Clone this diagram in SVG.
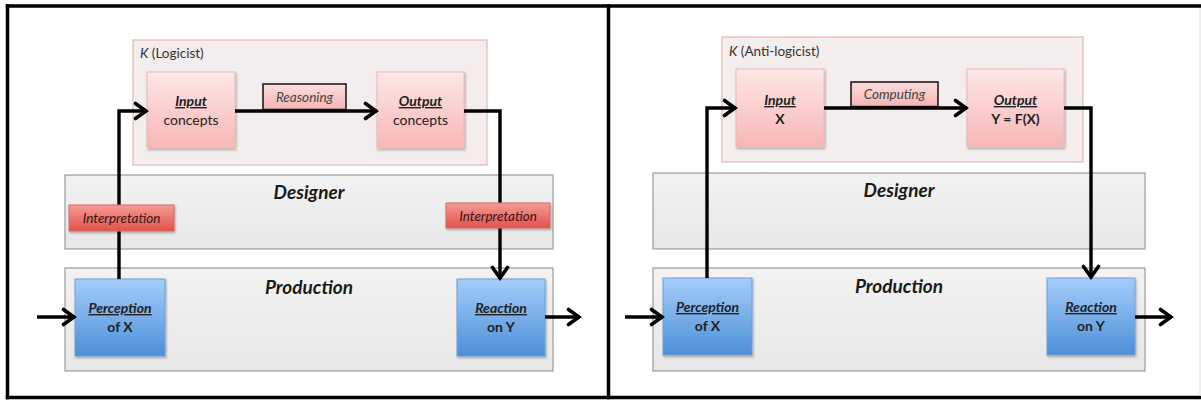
<svg xmlns="http://www.w3.org/2000/svg" width="1201" height="403" viewBox="0 0 1201 403">
<style>
text{font-family:Lato,"Open Sans","Liberation Sans",sans-serif;fill:#222;}
.kbox{fill:#f3eded;stroke:#e9b3b3;stroke-width:1.2;}
.pink{fill:url(#gPink);stroke:#e9b8b8;stroke-width:1;filter:url(#sh);}
.lab{fill:url(#gLab);stroke:#111;stroke-width:1.5;}
.grey{fill:url(#gGrey);stroke:#9a9a9a;stroke-width:1.2;}
.red{fill:url(#gRed);stroke:#d86a64;stroke-width:1;filter:url(#sh);}
.blue{fill:url(#gBlue);stroke:#6f9fd6;stroke-width:1;filter:url(#sh);}
.conn{fill:none;stroke:#000;stroke-width:3.4;}
.arr{marker-end:url(#ah);}
.klab{font-size:13.5px;fill:#333;}
.t13{font-size:14px;text-anchor:middle;}
.bi{font-weight:bold;font-style:italic;}
.it{font-style:italic;}
.b{font-weight:bold;}
.u{text-decoration:underline;}
.big{font-size:19px;font-weight:bold;font-style:italic;text-anchor:middle;fill:#1a1a1a;}
.lbl{font-size:13.5px;font-style:italic;text-anchor:middle;fill:#444;}
.ilbl{font-size:13.5px;font-style:italic;text-anchor:middle;fill:#3a1515;}
.frame{stroke:#000;stroke-width:3.5;fill:none;}
</style>
<defs>
<linearGradient id="gPink" x1="0" y1="0" x2="0" y2="1"><stop offset="0" stop-color="#fde7e7"/><stop offset="1" stop-color="#f8b6b6"/></linearGradient>
<linearGradient id="gLab" x1="0" y1="0" x2="0" y2="1"><stop offset="0" stop-color="#fcdede"/><stop offset="1" stop-color="#f5b3b3"/></linearGradient>
<linearGradient id="gGrey" x1="0" y1="0" x2="0" y2="1"><stop offset="0" stop-color="#f2f2f2"/><stop offset="1" stop-color="#e7e7e7"/></linearGradient>
<linearGradient id="gRed" x1="0" y1="0" x2="0" y2="1"><stop offset="0" stop-color="#f79b93"/><stop offset="1" stop-color="#e0514b"/></linearGradient>
<linearGradient id="gBlue" x1="0" y1="0" x2="0" y2="1"><stop offset="0" stop-color="#a5cdfa"/><stop offset="1" stop-color="#4c8fd8"/></linearGradient>
<filter id="sh" x="-10%" y="-10%" width="125%" height="125%"><feDropShadow dx="1" dy="1.5" stdDeviation="1" flood-color="#000" flood-opacity="0.3"/></filter>
<marker id="ah" markerUnits="userSpaceOnUse" viewBox="0 0 16 20" refX="14" refY="10" markerWidth="16" markerHeight="20" orient="auto">
<path d="M2.5,2.5 L13,10 L2.5,17.5" fill="none" stroke="#000" stroke-width="3.6" stroke-linecap="round" stroke-linejoin="miter"/>
</marker>
</defs>

<!-- outer frame -->
<g id="frame">
<line class="frame" x1="5.8" y1="6" x2="1201" y2="6"/>
<line class="frame" x1="5.8" y1="397.5" x2="1201" y2="397.5"/>
<line class="frame" x1="7.5" y1="4.3" x2="7.5" y2="399.2"/>
<line class="frame" x1="608.5" y1="4.3" x2="608.5" y2="399.2"/>
<line x1="1200" y1="8" x2="1200" y2="396" stroke="#ddd" stroke-width="1"/>
</g>

<!-- ===== LEFT PANEL ===== -->
<g id="k-logicist">
<rect class="kbox" x="133" y="40" width="354" height="125"/>
<text class="klab" x="140" y="58"><tspan class="it">K</tspan> (Logicist)</text>
</g>
<g id="designer-left">
<rect class="grey" x="65" y="175" width="488" height="74"/>
<text class="big" x="309" y="199">Designer</text>
</g>
<g id="production-left">
<rect class="grey" x="65" y="268" width="488" height="103"/>
<text class="big" x="309" y="294">Production</text>
</g>
<g id="input-concepts">
<rect class="pink" x="147" y="72" width="88" height="76"/>
<text class="t13" x="191" y="106"><tspan class="bi u">Input</tspan></text>
<text class="t13" x="191" y="125">concepts</text>
</g>
<g id="output-concepts">
<rect class="pink" x="377" y="72" width="87" height="76"/>
<text class="t13" x="420.5" y="106"><tspan class="bi u">Output</tspan></text>
<text class="t13" x="420.5" y="125">concepts</text>
</g>
<g id="perception-left">
<rect class="blue" x="75" y="279" width="90" height="77"/>
<text class="t13" x="120" y="313"><tspan class="bi u">Perception</tspan></text>
<text class="t13 b" x="120" y="332">of X</text>
</g>
<g id="reaction-left">
<rect class="blue" x="457" y="279" width="88" height="77"/>
<text class="t13" x="501" y="313"><tspan class="bi u">Reaction</tspan></text>
<text class="t13 b" x="501" y="332">on Y</text>
</g>

<!-- ===== RIGHT PANEL ===== -->
<g id="k-antilogicist">
<rect class="kbox" x="722" y="37" width="361" height="125"/>
<text class="klab" x="729" y="56"><tspan class="it">K</tspan> (Anti-logicist)</text>
</g>
<g id="designer-right">
<rect class="grey" x="653" y="173" width="492" height="76"/>
<text class="big" x="899" y="197">Designer</text>
</g>
<g id="production-right">
<rect class="grey" x="653" y="268" width="492" height="103"/>
<text class="big" x="899" y="293">Production</text>
</g>
<g id="input-x">
<rect class="pink" x="736" y="69" width="88" height="78"/>
<text class="t13" x="780" y="105"><tspan class="bi u">Input</tspan></text>
<text class="t13 b" x="780" y="124">X</text>
</g>
<g id="output-y">
<rect class="pink" x="967" y="69" width="97" height="78"/>
<text class="t13" x="1015.5" y="105"><tspan class="bi u">Output</tspan></text>
<text class="t13 b" x="1015.5" y="124">Y = F(X)</text>
</g>
<g id="perception-right">
<rect class="blue" x="663" y="278" width="89" height="77"/>
<text class="t13" x="707.5" y="312"><tspan class="bi u">Perception</tspan></text>
<text class="t13 b" x="707.5" y="331">of X</text>
</g>
<g id="reaction-right">
<rect class="blue" x="1047" y="278" width="88" height="77"/>
<text class="t13" x="1091" y="312"><tspan class="bi u">Reaction</tspan></text>
<text class="t13 b" x="1091" y="331">on Y</text>
</g>

<!-- ===== CONNECTORS ===== -->
<g id="connectors">
<path class="conn arr" d="M235,111 H377"/>
<path class="conn arr" d="M119,279 V111 H147"/>
<path class="conn arr" d="M464,111 H500 V279"/>
<path class="conn arr" d="M37,317 H75"/>
<path class="conn arr" d="M545,317 H580"/>

<path class="conn arr" d="M824,108 H967"/>
<path class="conn arr" d="M707,278 V108 H736"/>
<path class="conn arr" d="M1064,108 H1091 V278"/>
<path class="conn arr" d="M625,317 H663"/>
<path class="conn arr" d="M1135,317 H1172"/>
</g>

<!-- connector labels -->
<g id="label-reasoning">
<rect class="lab" x="263" y="84" width="83" height="25.5"/>
<text class="lbl" x="304.5" y="101.5">Reasoning</text>
</g>
<g id="label-computing">
<rect class="lab" x="851" y="82" width="87" height="24.5"/>
<text class="lbl" x="894.5" y="99">Computing</text>
</g>
<g id="label-interp-left">
<rect class="red" x="69" y="205" width="105" height="26"/>
<text class="ilbl" x="121.5" y="223">Interpretation</text>
</g>
<g id="label-interp-right">
<rect class="red" x="446" y="203" width="104" height="25"/>
<text class="ilbl" x="498" y="220.5">Interpretation</text>
</g>
</svg>
